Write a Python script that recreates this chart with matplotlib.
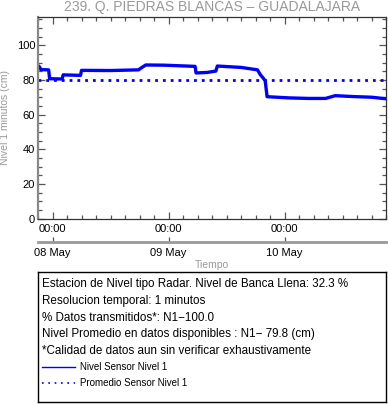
import matplotlib
matplotlib.use("Agg")
import matplotlib.pyplot as plt
import matplotlib.dates as mdates
from matplotlib.ticker import MultipleLocator
import pandas as pd

plt.rcParams['font.family'] = ['Liberation Sans', 'DejaVu Sans']

# ---- data ----
title = "239. Q. PIEDRAS BLANCAS \u2013 GUADALAJARA"
start_time = "2024-05-07 21:00"
end_time = "2024-05-10 21:00"
hours = [0, 0.3, 0.6, 2.2, 2.4, 5.0, 5.2, 8.8, 9.0, 15, 20.8, 21.5, 22.3, 26,
         32.5, 32.7, 35, 36.8, 37.1, 42, 45.4, 46.0, 46.6, 47.0, 47.4, 52, 56,
         59.5, 61.5, 65, 69, 72]
level = [88.3, 87.5, 85.9, 85.8, 80.7, 80.5, 82.9, 82.6, 85.5, 85.4, 85.8, 87.2,
         88.6, 88.5, 87.8, 84.0, 84.3, 85.1, 88.0, 87.2, 85.8, 83.0, 81.0, 79.5,
         70.3, 69.6, 69.3, 69.3, 70.9, 70.4, 70.0, 69.1]
mean_level = 79.8
info_lines = [
    "Estacion de Nivel tipo Radar. Nivel de Banca Llena: 32.3 %",
    "Resolucion temporal: 1 minutos",
    "% Datos transmitidos*: N1\u2212100.0",
    "Nivel Promedio en datos disponibles : N1\u2212 79.8 (cm)",
    "*Calidad de datos aun sin verificar exhaustivamente",
]
legend_labels = ["Nivel Sensor Nivel 1", "Promedio Sensor Nivel 1"]

W, H = 388, 404
fig = plt.figure(figsize=(W / 100, H / 100), dpi=100)

def fx(x):
    return x / W

def fy(y):
    return 1 - y / H

ax_l, ax_r, ax_t, ax_b = 38, 386, 17, 218.5
ax = fig.add_axes([fx(ax_l), fy(ax_b), (ax_r - ax_l) / W, (ax_b - ax_t) / H])

t0 = pd.Timestamp(start_time)
t1 = pd.Timestamp(end_time)
times = [t0 + pd.Timedelta(hours=h) for h in hours]

blue = "#0000ff"
ax.plot(times, level, color=blue, lw=2.4, solid_joinstyle='round')
ax.plot([t0, t1], [mean_level, mean_level], color=blue, lw=2.0,
        linestyle=(0, (1, 1.8)), dash_capstyle='butt')

ax.set_xlim(t0, t1)
ax.set_ylim(0, 116.3)

ax.yaxis.set_major_locator(MultipleLocator(20))
ax.yaxis.set_minor_locator(MultipleLocator(5))
ax.xaxis.set_major_locator(mdates.HourLocator(byhour=[0]))
ax.xaxis.set_minor_locator(mdates.HourLocator(byhour=range(0, 24, 3)))
ax.xaxis.set_major_formatter(mdates.DateFormatter("%H:%M"))

tick_col = "#555555"
ax.tick_params(which='both', direction='in', top=True, right=True,
               colors=tick_col, labelcolor='black', labelsize=8, width=0.9)
ax.tick_params(which='major', length=5)
ax.tick_params(which='minor', length=3)
ax.tick_params(axis='x', pad=4)
ax.tick_params(axis='y', pad=2)
for s in ['top', 'bottom', 'right']:
    ax.spines[s].set_color('#333333')
    ax.spines[s].set_linewidth(0.9)
ax.spines['left'].set_color('#888888')
ax.spines['left'].set_linewidth(1.6)

ax.set_ylabel("Nivel 1 minutos (cm)", color='#999999', fontsize=7.5)
ax.yaxis.label.set_verticalalignment('center')
ax.yaxis.set_label_coords((5.5 - ax_l) / (ax_r - ax_l), 0.5)
fig.text(fx((ax_l + ax_r) / 2), fy(7.5), title, color='#999999', fontsize=10,
         ha='center', va='center')

# secondary date axis
sec = ax.secondary_xaxis(-(241.5 - ax_b) / (ax_b - ax_t))
sec.xaxis.set_major_locator(mdates.HourLocator(byhour=[0]))
sec.xaxis.set_major_formatter(mdates.DateFormatter("%d %b"))
sec.tick_params(direction='in', length=3.5, width=0.9, colors=tick_col,
                labelcolor='black', labelsize=8, pad=5)
sec.spines['bottom'].set_color('#999999')
sec.spines['bottom'].set_linewidth(2.0)
sec.set_xlabel("Tiempo", color='#999999', fontsize=7.5, labelpad=1)

# info box
box = fig.add_axes([fx(38), fy(402), (386 - 38) / W, (402 - 272) / H])
box.set_xticks([])
box.set_yticks([])
for s in box.spines.values():
    s.set_color('black')
    s.set_linewidth(1.0)
box.set_xlim(38, 386)
box.set_ylim(402, 272)

ys = [284.5, 301, 318, 334.5, 351]
for y, line in zip(ys, info_lines):
    fig.text(fx(41.5), fy(y), line, fontsize=8.4, ha='left', va='center')

box.plot([41.5, 75], [367, 367], color=blue, lw=1.0)
box.plot([41.5, 75], [383, 383], color=blue, lw=1.2, linestyle=(0, (1, 2.8)))
fig.text(fx(79.5), fy(367), legend_labels[0], fontsize=7, ha='left', va='center')
fig.text(fx(79.5), fy(383), legend_labels[1], fontsize=7, ha='left', va='center')

fig.savefig("out.png", dpi=100)
